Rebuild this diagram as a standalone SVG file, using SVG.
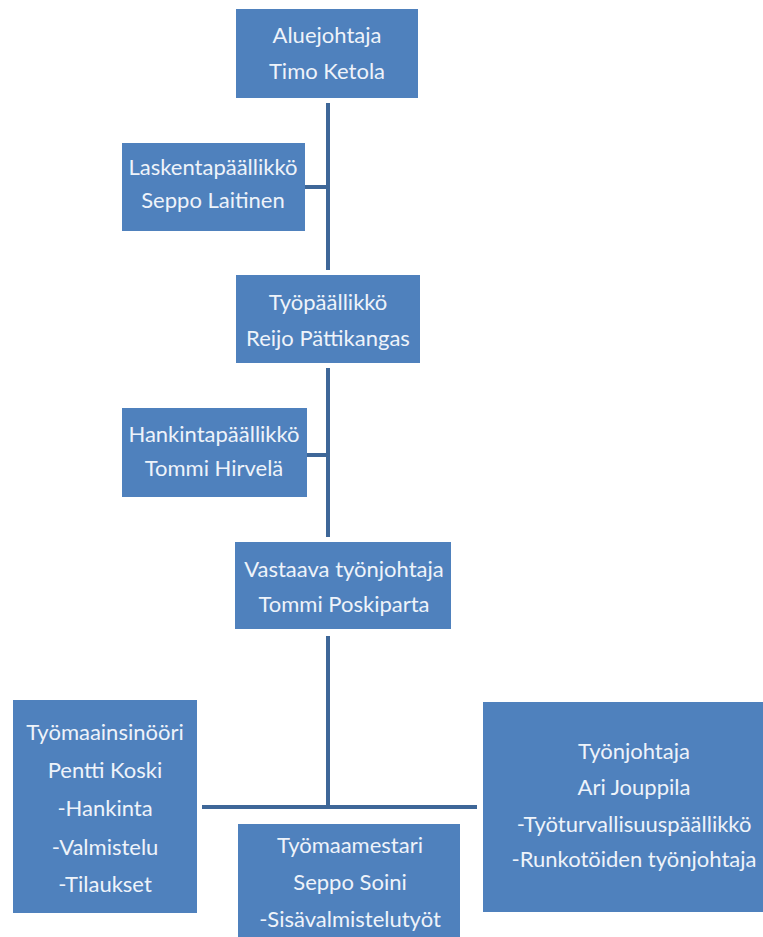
<svg xmlns="http://www.w3.org/2000/svg" width="763" height="937" viewBox="0 0 763 937">
<style>
.box{fill:#4F81BD;}
.t{font-family:Lato,"Liberation Sans",sans-serif;font-size:22px;fill:#EEF3FA;text-anchor:middle;}
.ln{stroke:#3E6798;fill:none;stroke-width:4;}
</style>
<rect width="763" height="937" fill="#ffffff"/>
<g id="connectors">
<line class="ln" x1="328" y1="103" x2="328" y2="270"/>
<line class="ln" x1="328" y1="368" x2="328" y2="537"/>
<line class="ln" x1="328" y1="636" x2="328" y2="807"/>
<line class="ln" x1="305" y1="187" x2="328" y2="187"/>
<line class="ln" x1="307" y1="455" x2="328" y2="455"/>
<line class="ln" x1="202" y1="807" x2="477" y2="807"/>
</g>
<g id="aluejohtaja">
<rect class="box" x="236" y="9" width="182" height="89"/>
<text class="t" x="327" y="43">Aluejohtaja</text>
<text class="t" x="327" y="79">Timo Ketola</text>
</g>
<g id="laskentapaallikko">
<rect class="box" x="122" y="143" width="183" height="88"/>
<text class="t" x="213" y="175">Laskentapäällikkö</text>
<text class="t" x="213" y="208">Seppo Laitinen</text>
</g>
<g id="tyopaallikko">
<rect class="box" x="236" y="275" width="184" height="88"/>
<text class="t" x="328" y="310">Työpäällikkö</text>
<text class="t" x="328" y="346">Reijo Pättikangas</text>
</g>
<g id="hankintapaallikko">
<rect class="box" x="122" y="408" width="185" height="89"/>
<text class="t" x="214" y="442">Hankintapäällikkö</text>
<text class="t" x="214" y="476">Tommi Hirvelä</text>
</g>
<g id="vastaava">
<rect class="box" x="235" y="542" width="216" height="87"/>
<text class="t" x="344" y="577">Vastaava työnjohtaja</text>
<text class="t" x="344" y="612">Tommi Poskiparta</text>
</g>
<g id="tyomaainsinoori">
<rect class="box" x="13" y="700" width="184" height="213"/>
<text class="t" x="105" y="740">Työmaainsinööri</text>
<text class="t" x="105" y="778">Pentti Koski</text>
<text class="t" x="105" y="816">-Hankinta</text>
<text class="t" x="105" y="855">-Valmistelu</text>
<text class="t" x="105" y="892">-Tilaukset</text>
</g>
<g id="tyomaamestari">
<rect class="box" x="238" y="824" width="222" height="120"/>
<text class="t" x="350" y="853">Työmaamestari</text>
<text class="t" x="350" y="890">Seppo Soini</text>
<text class="t" x="350" y="927">-Sisävalmistelutyöt</text>
</g>
<g id="tyonjohtaja">
<rect class="box" x="483" y="702" width="300" height="210"/>
<text class="t" x="634" y="759">Työnjohtaja</text>
<text class="t" x="634" y="795">Ari Jouppila</text>
<text class="t" x="634" y="832">-Työturvallisuuspäällikkö</text>
<text class="t" x="634" y="867">-Runkotöiden työnjohtaja</text>
</g>
</svg>
